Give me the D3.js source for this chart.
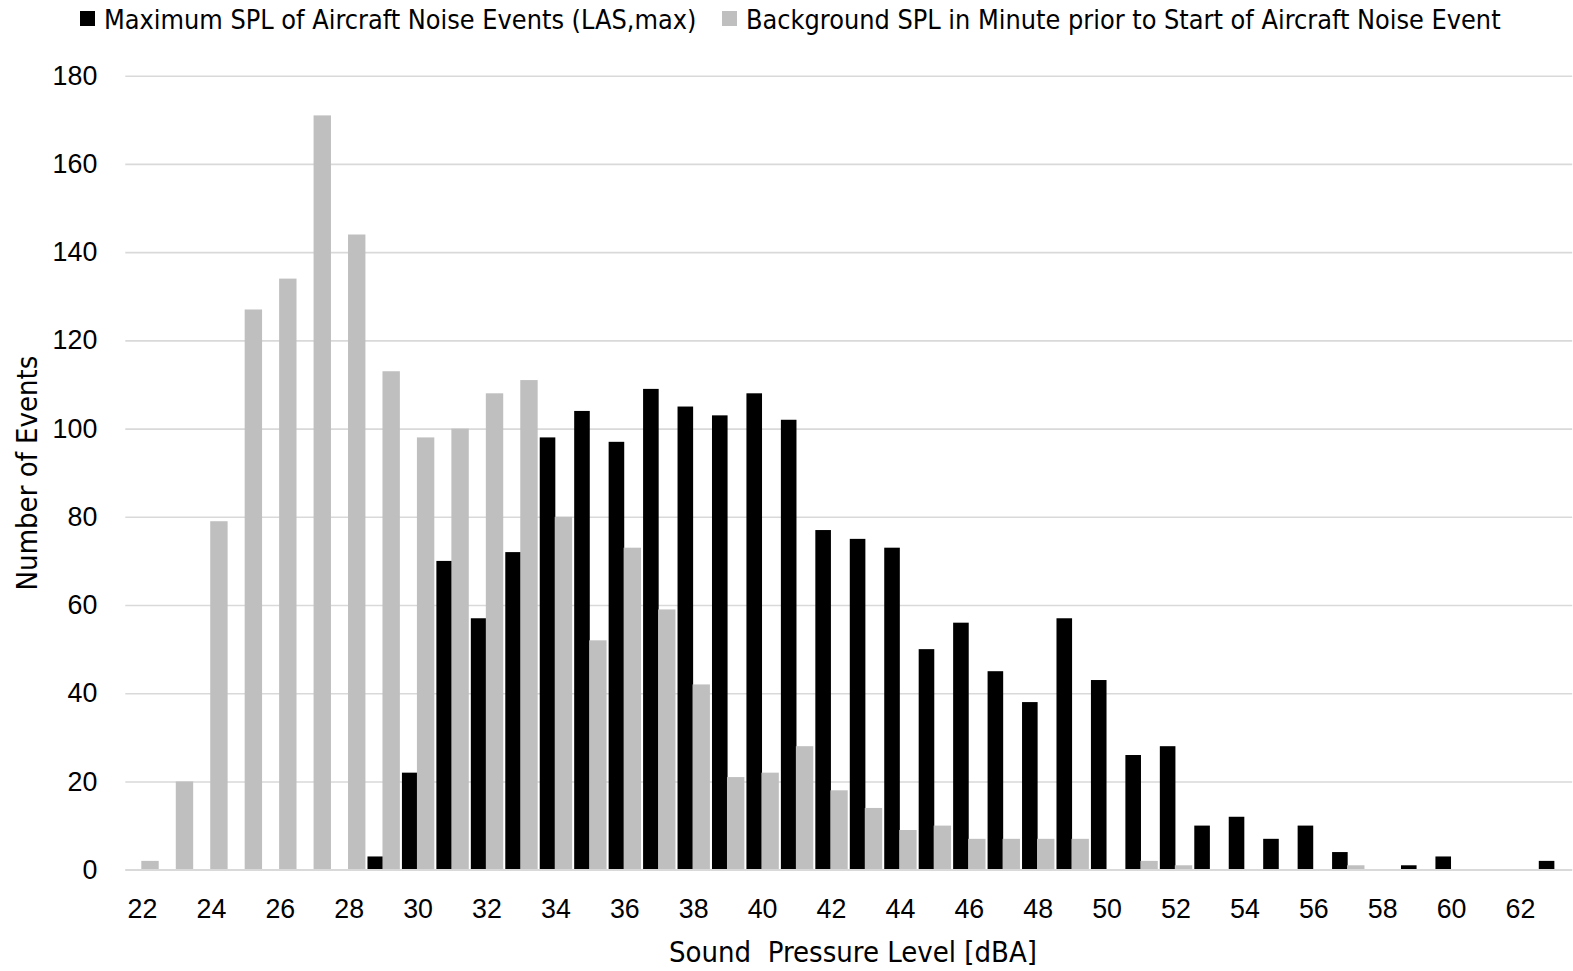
<!DOCTYPE html>
<html>
<head>
<meta charset="utf-8">
<script src="https://cdn.jsdelivr.net/npm/d3@7"></script>
<style>
  body { margin: 0; background: #fff; }
  svg { display: block; font-family: "DejaVu Sans Condensed", "Liberation Sans Narrow", sans-serif; }
</style>
</head>
<body>
<svg width="1573" height="971"></svg>
<script>
// уровни звукового давления, дБА (одна категория на каждый дБ)
const levels = [22, 23, 24, 25, 26, 27, 28, 29, 30, 31, 32, 33, 34, 35, 36, 37, 38, 39, 40, 41, 42,
                43, 44, 45, 46, 47, 48, 49, 50, 51, 52, 53, 54, 55, 56, 57, 58, 59, 60, 61, 62, 63];

// LAS,max самолётных событий
const maxSplCounts = [0, 0, 0, 0, 0, 0, 0, 3, 22, 70, 57, 72, 98, 104, 97, 109, 105, 103, 108, 102, 77,
                      75, 73, 50, 56, 45, 38, 57, 43, 26, 28, 10, 12, 7, 10, 4, 0, 1, 3, 0, 0, 2];

// фон за минуту до начала события
const backgroundCounts = [2, 20, 79, 127, 134, 171, 144, 113, 98, 100, 108, 111, 80, 52, 73, 59, 42, 21, 22, 28, 18,
                          14, 9, 10, 7, 7, 7, 7, 0, 2, 1, 0, 0, 0, 0, 1, 0, 0, 0, 0, 0, 0];

const xTickLabels = [22, 24, 26, 28, 30, 32, 34, 36, 38, 40, 42, 44, 46, 48, 50, 52, 54, 56, 58, 60, 62];
const yTicks = [0, 20, 40, 60, 80, 100, 120, 140, 160, 180];

const seriesNames = [
  "Maximum SPL of Aircraft Noise Events (LAS,max)",
  "Background SPL in Minute prior to Start of Aircraft Noise Event",
];
const seriesColors = ["#000000", "#bfbfbf"];

const attr_area = {
  left: 125.3,
  right: 1572.2,
  top: 75.7,
  bottom: 869.7,
  fontSize: 26.8,
  titleSize: 29,
};

function buildRows() {
  return levels.map((lvl, i) => ({
    labelX: lvl,
    values: [maxSplCounts[i], backgroundCounts[i]],
  }));
}

function createAxis(svg, data) {
  const scaleX = d3
    .scaleBand()
    .domain(data.map((d) => d.labelX))
    .range([attr_area.left, attr_area.right])
    .paddingInner(0.06)
    .paddingOuter(0.03);

  const scaleY = d3
    .scaleLinear()
    .domain([0, 180])
    .range([attr_area.bottom, attr_area.top]);

  // сетка + подписи оси Y
  const gy = svg
    .append("g")
    .attr("transform", `translate(${attr_area.left}, 0)`)
    .call(
      d3.axisLeft(scaleY)
        .tickValues(yTicks)
        .tickSize(-(attr_area.right - attr_area.left))
        .tickPadding(28)
    );
  gy.select(".domain").remove();
  gy.selectAll("line").attr("stroke", "#d9d9d9").attr("stroke-width", 1.6);
  gy.selectAll("text")
    .attr("fill", "#000")
    .style("font-size", attr_area.fontSize + "px")
    .style("font-family", "inherit");

  // ось X
  const gx = svg
    .append("g")
    .attr("transform", `translate(0, ${attr_area.bottom})`)
    .call(d3.axisBottom(scaleX).tickValues(xTickLabels).tickSize(0));
  gx.select(".domain").remove();
  gx.selectAll("text")
    .attr("y", 48)
    .attr("dy", 0)
    .attr("fill", "#000")
    .style("font-size", attr_area.fontSize + "px")
    .style("font-family", "inherit");

  return [scaleX, scaleY];
}

function createBars(svg, data, scaleX, scaleY) {
  const scaleSub = d3
    .scaleBand()
    .domain([0, 1])
    .range([0, scaleX.bandwidth()]);

  data.forEach((d) => {
    d.values.forEach((v, k) => {
      if (v === 0) return;
      svg
        .append("rect")
        .attr("x", scaleX(d.labelX) + scaleSub(k) - (k === 1 ? 1.2 : 0))
        .attr("y", scaleY(v))
        .attr("width", scaleSub.bandwidth() + (k === 1 ? 1.2 : -0.6))
        .attr("height", attr_area.bottom - scaleY(v))
        .style("fill", seriesColors[k]);
    });
  });

  // нижняя линия
  svg
    .append("line")
    .attr("x1", attr_area.left)
    .attr("x2", attr_area.right)
    .attr("y1", attr_area.bottom)
    .attr("y2", attr_area.bottom)
    .attr("stroke", "#d9d9d9")
    .attr("stroke-width", 1.6);
}

function createLegend(svg) {
  const xs = [80, 722];
  seriesNames.forEach((name, k) => {
    svg
      .append("rect")
      .attr("x", xs[k])
      .attr("y", 11)
      .attr("width", 15)
      .attr("height", 15)
      .style("fill", seriesColors[k]);
    svg
      .append("text")
      .attr("x", xs[k] + 24)
      .attr("y", 29)
      .style("font-size", attr_area.fontSize + "px")
      .text(name);
  });
}

function createTitles(svg) {
  svg
    .append("text")
    .attr("x", 853)
    .attr("y", 962)
    .attr("text-anchor", "middle")
    .style("font-size", attr_area.titleSize + "px")
    .style("white-space", "pre")
    .text("Sound  Pressure Level [dBA]");

  svg
    .append("text")
    .attr("transform", "translate(37, 473) rotate(-90)")
    .attr("text-anchor", "middle")
    .style("font-size", attr_area.titleSize + "px")
    .text("Number of Events");
}

function drawGraph() {
  const svg = d3.select("svg");
  svg.selectAll("*").remove();
  const data = buildRows();
  const [scX, scY] = createAxis(svg, data);
  createBars(svg, data, scX, scY);
  createLegend(svg);
  createTitles(svg);
}

drawGraph();
</script>
</body>
</html>
